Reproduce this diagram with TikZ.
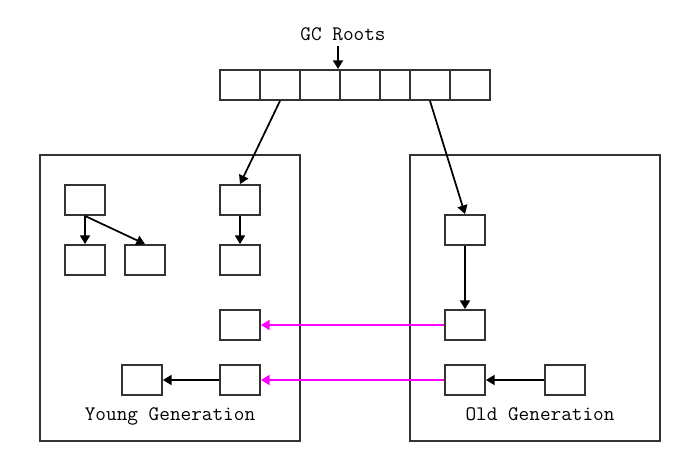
\documentclass[tikz,border=0pt]{standalone}
\usepackage{fontspec}
\usetikzlibrary{arrows.meta,positioning}
\definecolor{edge}{HTML}{333333}
\definecolor{ref}{HTML}{FF00FF}
\tikzset{
  obj/.style={
    draw=edge, fill=white, line width=1.4pt,
    minimum width=30pt, minimum height=22.5pt, inner sep=0pt
  },
  cell/.style={obj, minimum height=22.5pt},
  region/.style={draw=edge, line width=1.1pt},
  label/.style={font=\ttfamily\fontsize{15.5}{17}\selectfont, inner sep=0pt, anchor=base},
  arrow/.style={-{Triangle[length=6.5pt,width=7.5pt]}, line width=1.3pt, draw=black},
  crossref/.style={-{Triangle[length=6.5pt,width=7.5pt]}, line width=1.3pt, draw=ref}
}
\begin{document}
\begin{tikzpicture}[x=0.75pt, y=-0.75pt]
  \useasboundingbox (0,0) rectangle (680,461);
  % generations
  \draw[region] (40,155) rectangle (300,441);
  \draw[region] (410,155) rectangle (660,441);
  \node[label] (young) at (170,420) {Young Generation};
  \node[label] (old) at (540,420) {Old Generation};

  % root set
  \node[label] (gc) at (343,40) {GC Roots};
  \node[cell] (r1) at (240,85) {};
  \node[cell] (r2) at (280,85) {};
  \node[cell] (r3) at (320,85) {};
  \node[cell] (r4) at (360,85) {};
  \node[cell, minimum width=22.5pt] (r5) at (395,85) {};
  \node[cell] (r6) at (430,85) {};
  \node[cell] (r7) at (470,85) {};
  \coordinate (gcin) at (338,46);
  \coordinate (gcout) at (338,69);
  \draw[arrow] (gcin) -- (gcout);

  % young objects
  \node[obj] (ya) at (85,200) {};
  \node[obj] (yb) at (85,260) {};
  \node[obj] (yc) at (145,260) {};
  \node[obj] (yd) at (240,200) {};
  \node[obj] (ye) at (240,260) {};
  \node[obj] (yf) at (240,325) {};
  \node[obj] (yg) at (240,380) {};
  \node[obj] (yh) at (142,380) {};

  % old objects
  \node[obj] (oa) at (465,230) {};
  \node[obj] (ob) at (465,325) {};
  \node[obj] (oc) at (465,380) {};
  \node[obj] (od) at (565,380) {};

  % references
  \draw[arrow] (r2.south) -- (yd.north);
  \draw[arrow] (r6.south) -- (oa.north);
  \draw[arrow] (ya.south) -- (yb.north);
  \draw[arrow] (ya.south) -- (yc.north);
  \draw[arrow] (yd.south) -- (ye.north);
  \draw[arrow] (yg.west) -- (yh.east);
  \draw[arrow] (oa.south) -- (ob.north);
  \draw[arrow] (od.west) -- (oc.east);
  \draw[crossref] (ob.west) -- (yf.east);
  \draw[crossref] (oc.west) -- (yg.east);
\end{tikzpicture}
\end{document}
